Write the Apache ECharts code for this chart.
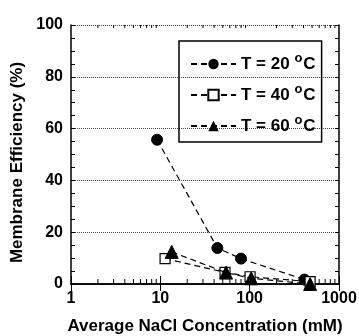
<!DOCTYPE html>
<html>
<head>
<meta charset="utf-8">
<script src="https://cdn.jsdelivr.net/npm/echarts@6/dist/echarts.min.js"></script>
<style>
  html, body { margin: 0; padding: 0; background: #fff; }
  #chart { width: 359px; height: 336px; }
</style>
</head>
<body>
<div id="chart"></div>
<script>
  // average NaCl concentration (mM) and membrane efficiency (%) per temperature
  const conc20 = [9.2, 43.5, 80, 410];
  const eff20 = [55.7, 13.9, 9.8, 1.7];
  const conc40 = [11.3, 53, 101, 475];
  const eff40 = [9.8, 4.5, 2.8, 0.9];
  const conc60 = [13.4, 54.4, 104, 475];
  const eff60 = [12.4, 4.4, 2.2, 0];
  const seriesNames = ['T = 20 °C', 'T = 40 °C', 'T = 60 °C'];
  // log axis minor tick values
  const minorTicks = [2, 3, 4, 5, 6, 7, 8, 9, 20, 30, 40, 50, 60, 70, 80, 90, 200, 300, 400, 500, 600, 700, 800, 900];

  const font = 'Arial, "Liberation Sans", Helvetica, sans-serif';
  const pair = (xs, ys) => xs.map((x, i) => [x, ys[i]]);
  const dashed = { color: '#000', width: 1.2, type: [6, 4] };

  const chart = echarts.init(document.getElementById('chart'));
  chart.setOption({
    animation: false,
    grid: { left: 71, right: 20, top: 25, bottom: 52, outerBoundsMode: 'none', containLabel: false },
    legend: {
      orient: 'vertical',
      left: 179,
      top: 41,
      padding: [11, 6, 4, 11],
      borderColor: '#000',
      borderWidth: 1.5,
      itemWidth: 45,
      itemHeight: 13,
      itemGap: 7,
      data: seriesNames,
      formatter: (name) => name.replace('°', '{sup|o}'),
      textStyle: {
        fontFamily: font, fontWeight: 'bold', fontSize: 17, color: '#000', lineHeight: 24,
        rich: {
          sup: { fontFamily: font, fontWeight: 'bold', fontSize: 13, lineHeight: 13, color: '#000', verticalAlign: 'top', padding: [0, 1, 0, 0] }
        }
      }
    },
    xAxis: [
      {
        type: 'log', logBase: 10, min: 1, max: 1000,
        name: 'Average NaCl Concentration (mM)',
        nameLocation: 'middle', nameGap: 34,
        nameTextStyle: { fontFamily: font, fontWeight: 'bold', fontSize: 17, color: '#000' },
        axisLine: { lineStyle: { color: '#000', width: 1.5 } },
        axisTick: { inside: true, length: 8, lineStyle: { color: '#000' } },
        axisLabel: { fontFamily: font, fontWeight: 'bold', fontSize: 16, color: '#000', margin: 7, formatter: (v) => String(v) },
        splitLine: { show: false }
      },
      {
        type: 'log', logBase: 10, min: 1, max: 1000, position: 'top',
        axisLine: { lineStyle: { color: '#000', width: 1.5 } },
        axisTick: { inside: true, length: 7, lineStyle: { color: '#000' } },
        axisLabel: { show: false },
        splitLine: { show: false }
      }
    ],
    yAxis: [
      {
        type: 'value', min: 0, max: 100, interval: 20,
        name: 'Membrane Efficiency (%)',
        nameLocation: 'middle', nameGap: 42,
        nameTextStyle: { fontFamily: font, fontWeight: 'bold', fontSize: 17, color: '#000', padding: [0, 16, 0, 0] },
        axisLine: { show: true, lineStyle: { color: '#000', width: 1.5 } },
        axisTick: { show: true, inside: true, length: 4, lineStyle: { color: '#000' } },
        minorTick: { show: true, splitNumber: 4, length: 4, lineStyle: { color: '#000' } },
        axisLabel: { fontFamily: font, fontWeight: 'bold', fontSize: 16, color: '#000', margin: 8 },
        splitLine: { show: true, lineStyle: { color: '#444', width: 1, type: [1, 1] } }
      },
      {
        type: 'value', min: 0, max: 100, interval: 20, position: 'right',
        axisLine: { show: true, lineStyle: { color: '#000', width: 1.5 } },
        axisTick: { show: true, inside: true, length: 4, lineStyle: { color: '#000' } },
        minorTick: { show: true, splitNumber: 4, length: 4, lineStyle: { color: '#000' } },
        axisLabel: { show: false },
        splitLine: { show: false }
      }
    ],
    series: [
      {
        type: 'custom',
        silent: true,
        data: minorTicks.map((v) => [v, 0]),
        renderItem: (params, api) => {
          const x = api.coord([api.value(0), 0])[0];
          const top = params.coordSys.y;
          const bottom = top + params.coordSys.height;
          return {
            type: 'group',
            children: [
              { type: 'line', shape: { x1: x, y1: bottom, x2: x, y2: bottom - 5 }, style: { stroke: '#000', lineWidth: 1 } },
              { type: 'line', shape: { x1: x, y1: top, x2: x, y2: top + 3 }, style: { stroke: '#000', lineWidth: 1 } }
            ]
          };
        },
        clip: false,
        z: 1
      },
      {
        name: seriesNames[0], type: 'line', data: pair(conc20, eff20),
        symbol: 'circle', symbolSize: 11,
        itemStyle: { color: '#000', borderColor: '#000' },
        lineStyle: dashed, z: 3
      },
      {
        name: seriesNames[1], type: 'line', data: pair(conc40, eff40),
        symbol: 'rect', symbolSize: 10,
        itemStyle: { color: '#fff', borderColor: '#000', borderWidth: 1.2 },
        lineStyle: dashed, z: 4
      },
      {
        name: seriesNames[2], type: 'line', data: pair(conc60, eff60),
        symbol: 'triangle', symbolSize: 13,
        itemStyle: { color: '#000', borderColor: '#000' },
        lineStyle: dashed, z: 5
      }
    ]
  });
</script>
</body>
</html>
